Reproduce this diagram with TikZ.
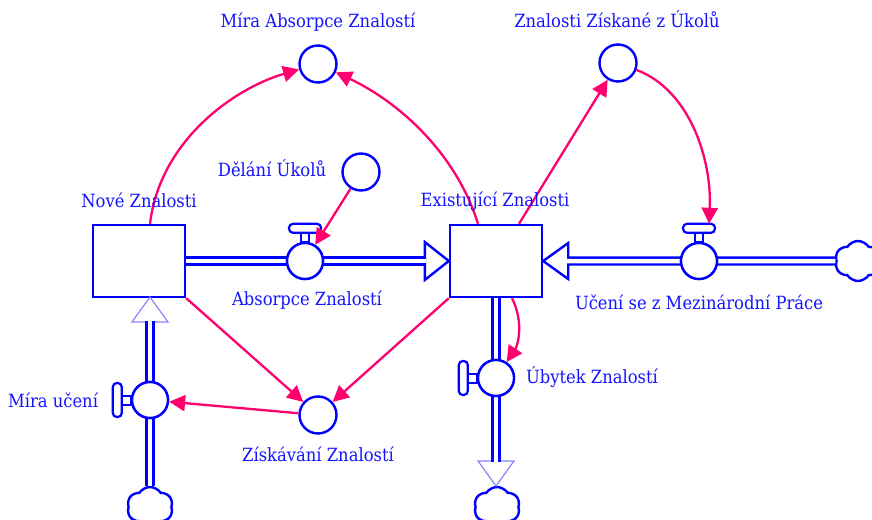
\documentclass[tikz,border=0pt]{standalone}
\usepackage{fontspec}
\setmainfont{DejaVu Serif Condensed}
\usetikzlibrary{arrows.meta,shapes.symbols,calc}
\definecolor{sdblue}{RGB}{0,0,255}
\definecolor{sdtext}{RGB}{20,20,255}
\definecolor{sdpink}{RGB}{255,0,110}
\definecolor{sdlight}{RGB}{135,135,255}
\begin{document}
\begin{tikzpicture}[x=1pt,y=-1pt,
 stock/.style={draw=sdblue,line width=2.4pt,fill=white,minimum width=92pt,minimum height=72pt,inner sep=0pt},
 valve/.style={circle,draw=sdblue,line width=2.4pt,fill=white,minimum size=36pt,inner sep=0pt},
 aux/.style={circle,draw=sdblue,line width=2.4pt,fill=white,minimum size=37pt,inner sep=0pt},
 handle/.style={draw=sdblue,line width=2.2pt,fill=white,rounded corners=4pt},
 stem/.style={draw=sdblue,line width=2pt,fill=white},
 pipe/.style={draw=sdblue,line width=2.3pt,double=white,double distance=4.5pt},
 inhead/.style={draw=sdblue,line width=2.4pt,fill=white,line join=miter},
 outhead/.style={draw=sdlight,line width=1.2pt,fill=white},
 sdcloud/.style={cloud,cloud puffs=6,cloud puff arc=115,aspect=1.15,draw=sdblue,line width=2.4pt,fill=white,minimum width=46pt,minimum height=40pt,inner sep=0pt},
 link/.style={draw=sdpink,line width=2.3pt,-{Triangle[length=16pt,width=16pt]}},
 lbl/.style={text=sdtext,font=\fontsize{18.2}{22}\selectfont,anchor=base,inner sep=0pt}]
\useasboundingbox (0,0) rectangle (872,519);
\fill[white] (0,0) rectangle (872,519);

% stocks
\node[stock] (nove) at (139,261) {};
\node[stock] (exist) at (496,261) {};

% clouds
\node[sdcloud] (rcloud) at (858,261) {};
\node[sdcloud] (lcloud) at (150,507) {};
\node[sdcloud] (bcloud) at (497,507) {};

% coordinates for flow heads
\coordinate (mutip) at (150,297);
\coordinate (ubtip) at (496,486);

% arrow heads of pipes
\draw[inhead] ($(exist.west)+(-24,-19)$) -- (exist.west) -- ($(exist.west)+(-24,19)$) -- cycle;
\draw[inhead] ($(exist.east)+(25,-18)$) -- (exist.east) -- ($(exist.east)+(25,18)$) -- cycle;
\draw[outhead] ($(mutip)+(-18,25)$) -- (mutip) -- ($(mutip)+(18,25)$) -- cycle;
\draw[outhead] ($(ubtip)+(-18,-25)$) -- (ubtip) -- ($(ubtip)+(18,-25)$) -- cycle;

% pipes
\draw[pipe] (nove.east) -- ($(exist.west)+(-23,0)$);
\draw[pipe] (rcloud.west) -- ($(exist.east)+(24,0)$);
\draw[pipe] (lcloud.north) -- ($(mutip)+(0,24)$);
\draw[pipe] (exist.south) -- ($(ubtip)+(0,-24)$);

% valves
\node[valve] (absv) at (305,261) {};
\node[valve] (ucv) at (699,261) {};
\node[valve] (mucv) at (150,400) {};
\node[valve] (ubv) at (496,378) {};

% handles
\draw[stem] ($(absv.north)+(-4,-9)$) rectangle ($(absv.north)+(4,0)$);
\draw[handle] ($(absv.north)+(-16,-18)$) rectangle ($(absv.north)+(16,-9)$);
\draw[stem] ($(ucv.north)+(-4,-9)$) rectangle ($(ucv.north)+(4,0)$);
\draw[handle] ($(ucv.north)+(-16,-18)$) rectangle ($(ucv.north)+(16,-9)$);
\draw[stem] ($(mucv.west)+(-9,-4.5)$) rectangle ($(mucv.west)+(0,4.5)$);
\draw[handle] ($(mucv.west)+(-18,-17)$) rectangle ($(mucv.west)+(-9,17)$);
\draw[stem] ($(ubv.west)+(-9,-4.5)$) rectangle ($(ubv.west)+(0,4.5)$);
\draw[handle] ($(ubv.west)+(-18,-17)$) rectangle ($(ubv.west)+(-9,17)$);
\node[valve] at (absv) {};
\node[valve] at (ucv) {};
\node[valve] at (mucv) {};
\node[valve] at (ubv) {};

% auxiliaries
\node[aux] (mabs) at (318,64) {};
\node[aux] (zz) at (618,63) {};
\node[aux] (del) at (361,172) {};
\node[aux] (ziskav) at (318,415) {};

\coordinate (uhtop) at ($(ucv.north)+(10,-18)$);

% connectors
\draw[link] ($(nove.north)+(11,0)$) .. controls (160,140) and (235,88) .. (mabs);
\draw[link] ($(exist.north)+(-18,0)$) .. controls (455,150) and (395,100) .. (mabs);
\draw[link] ($(exist.north)+(23,0)$) -- (zz);
\draw[link] (zz) .. controls (690,90) and (712,160) .. (uhtop);
\draw[link] (del) -- (absv);
\draw[link] (nove.south east) -- (ziskav);
\draw[link] (exist.south west) -- (ziskav);
\draw[link] (ziskav) -- (mucv);
\draw[link] ($(exist.south)+(16,0)$) .. controls (524,322) and (518,345) .. (ubv);

% labels
\node[lbl] (lmabs) at (318,28) {Míra Absorpce Znalostí};
\node[lbl] (lzz) at (617,28) {Znalosti Získané z Úkolů};
\node[lbl] (ldel) at (272,176) {Dělání Úkolů};
\node[lbl] (lnove) at (139,207) {Nové Znalosti};
\node[lbl] (lexist) at (495,206) {Existující Znalosti};
\node[lbl] (labsv) at (307,305) {Absorpce Znalostí};
\node[lbl] (lucv) at (699,309) {Učení se z Mezinárodní Práce};
\node[lbl] (lmucv) at (53,407) {Míra učení};
\node[lbl] (lubv) at (592,383) {Úbytek Znalostí};
\node[lbl] (lziskav) at (318,461) {Získávání Znalostí};
\end{tikzpicture}
\end{document}
